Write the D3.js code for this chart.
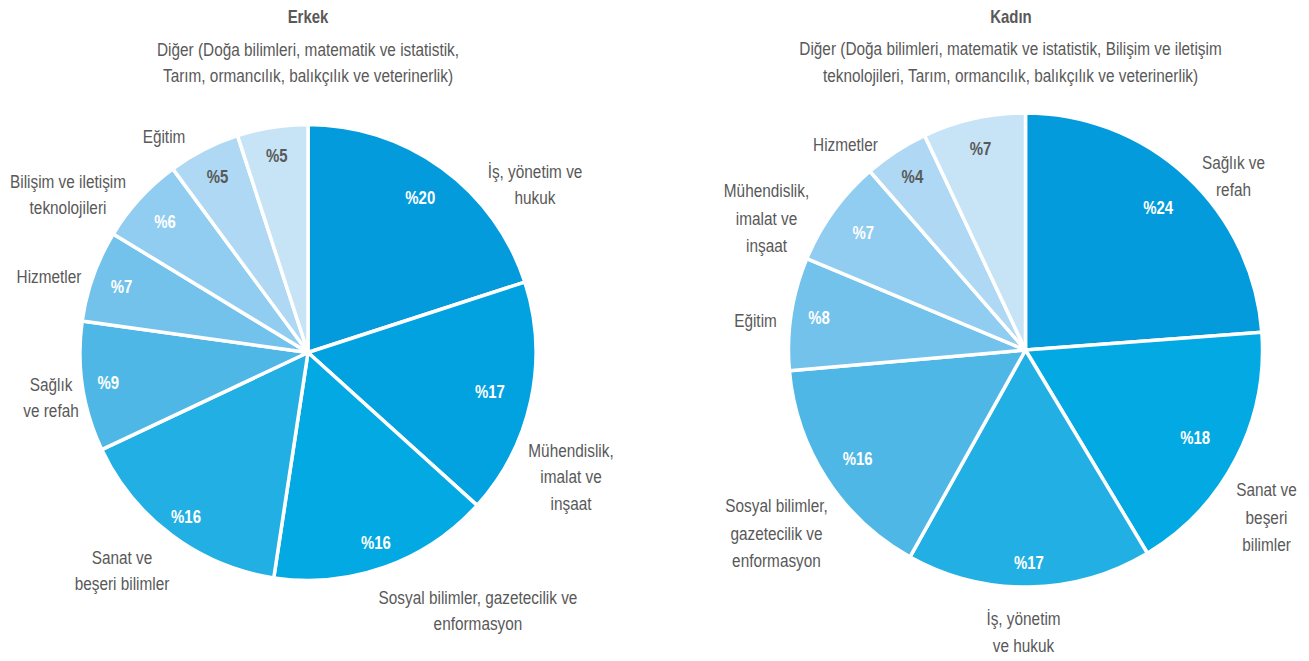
<!DOCTYPE html>
<html>
<head>
<meta charset="utf-8">
<script src="https://cdn.jsdelivr.net/npm/d3@7/dist/d3.min.js"></script>
<style>
  html, body { margin: 0; padding: 0; background: #ffffff; }
  svg { display: block; }
  text { font-family: "Liberation Sans", Arial, sans-serif; }
</style>
</head>
<body>
<svg id="chart" width="1309" height="661"></svg>
<script>
// ---------------- DATA ----------------
const titles = ["Erkek", "Kadın"];

const erkekCategories = [
  ["İş, yönetim ve", "hukuk"],
  ["Mühendislik,", "imalat ve", "inşaat"],
  ["Sosyal bilimler, gazetecilik ve", "enformasyon"],
  ["Sanat ve", "beşeri bilimler"],
  ["Sağlık", "ve refah"],
  ["Hizmetler"],
  ["Bilişim ve iletişim", "teknolojileri"],
  ["Eğitim"],
  ["Diğer (Doğa bilimleri, matematik ve istatistik,", "Tarım, ormancılık, balıkçılık ve veterinerlik)"]
];
const erkekValues = [20.0, 16.7, 15.7, 15.6, 9.2, 6.5, 6.2, 5.1, 5.0];
const erkekLabels = ["%20", "%17", "%16", "%16", "%9", "%7", "%6", "%5", "%5"];

const kadinCategories = [
  ["Sağlık ve", "refah"],
  ["Sanat ve", "beşeri", "bilimler"],
  ["İş, yönetim", "ve hukuk"],
  ["Sosyal bilimler,", "gazetecilik ve", "enformasyon"],
  ["Eğitim"],
  ["Mühendislik,", "imalat ve", "inşaat"],
  ["Hizmetler"],
  ["Diğer (Doğa bilimleri, matematik ve istatistik, Bilişim ve iletişim", "teknolojileri, Tarım, ormancılık, balıkçılık ve veterinerlik)"]
];
const kadinValues = [23.8, 17.6, 16.7, 15.5, 7.7, 7.3, 4.4, 7.0];
const kadinLabels = ["%24", "%18", "%17", "%16", "%8", "%7", "%4", "%7"];

// ---------------- STYLE / LAYOUT ----------------
const erkekColors = ["#039BDC", "#02A2E0", "#03A9E2", "#22B0E4", "#4FB7E6", "#72C2EC", "#90CDF0", "#AED8F3", "#C7E4F6"];
const kadinColors = ["#039BDC", "#03A9E2", "#22B0E4", "#4FB7E6", "#72C2EC", "#90CDF0", "#AED8F3", "#C7E4F6"];
const erkekDarkText = [false, false, false, false, false, false, false, true, true];
const kadinDarkText = [false, false, false, false, false, false, true, true];

// category label block centres, relative to pie centre
const erkekLabelOffsets = [[227, -168], [263, 124], [170, 258], [-186, 218], [-257, 45], [-259, -76], [-240, -158], [-144, -216], [0, -290]];
const kadinLabelOffsets = [[208, -174], [241, 167], [-2, 282], [-249, 183], [-270, -30], [-259, -132], [-180, -206], [-15, -288]];
// radius at which each percentage label sits
const erkekPctRadius = [191, 186, 202, 204, 202, 198, 194, 198, 199];
const kadinPctRadius = [195, 191, 213, 200, 209, 200, 207, 206];

const condense = 0.83; // narrow-font look

const pies = [
  { title: titles[0], cats: erkekCategories, values: erkekValues, labels: erkekLabels,
    colors: erkekColors, dark: erkekDarkText, offsets: erkekLabelOffsets, pctR: erkekPctRadius,
    cx: 308, cy: 352.5, r: 228, titleX: 308, lineH: 26.5 },
  { title: titles[1], cats: kadinCategories, values: kadinValues, labels: kadinLabels,
    colors: kadinColors, dark: kadinDarkText, offsets: kadinLabelOffsets, pctR: kadinPctRadius,
    cx: 1025.5, cy: 350, r: 237, titleX: 1011, lineH: 27.5 }
];

const textGrey = "#595959";
const svg = d3.select("#chart");

pies.forEach(p => {
  const g = svg.append("g").attr("transform", `translate(${p.cx},${p.cy})`);
  const pie = d3.pie().sort(null).value(d => d);
  const arcs = pie(p.values);
  const arc = d3.arc().innerRadius(0).outerRadius(p.r);

  g.selectAll("path.slice").data(arcs).enter().append("path")
    .attr("class", "slice")
    .attr("d", arc)
    .attr("fill", (d, i) => p.colors[i])
    .attr("stroke", "#ffffff")
    .attr("stroke-width", 3.5)
    .attr("stroke-linejoin", "round");

  // percentage labels
  g.selectAll("g.pct").data(arcs).enter().append("g")
    .attr("class", "pct")
    .attr("transform", (d, i) => {
      const la = d3.arc().innerRadius(p.pctR[i]).outerRadius(p.pctR[i]);
      return `translate(${la.centroid(d)}) scale(${condense},1)`;
    })
    .append("text")
    .attr("text-anchor", "middle")
    .attr("dy", "0.36em")
    .attr("font-size", 18)
    .attr("font-weight", "bold")
    .attr("fill", (d, i) => p.dark[i] ? textGrey : "#ffffff")
    .text((d, i) => p.labels[i]);

  // category labels
  p.cats.forEach((lines, i) => {
    const [ox, oy] = p.offsets[i];
    const t = g.append("g")
      .attr("transform", `translate(${ox},${oy}) scale(${condense},1)`)
      .append("text")
      .attr("text-anchor", "middle")
      .attr("font-size", 18.5)
      .attr("fill", textGrey);
    const n = lines.length;
    lines.forEach((ln, k) => {
      t.append("tspan")
        .attr("x", 0)
        .attr("y", (k - (n - 1) / 2) * p.lineH)
        .attr("dy", "0.36em")
        .text(ln);
    });
  });

  // title
  svg.append("g")
    .attr("transform", `translate(${p.titleX},17) scale(${condense},1)`)
    .append("text")
    .attr("dy", "0.36em")
    .attr("text-anchor", "middle")
    .attr("font-size", 18)
    .attr("font-weight", "bold")
    .attr("fill", textGrey)
    .text(p.title);
});
</script>
</body>
</html>
